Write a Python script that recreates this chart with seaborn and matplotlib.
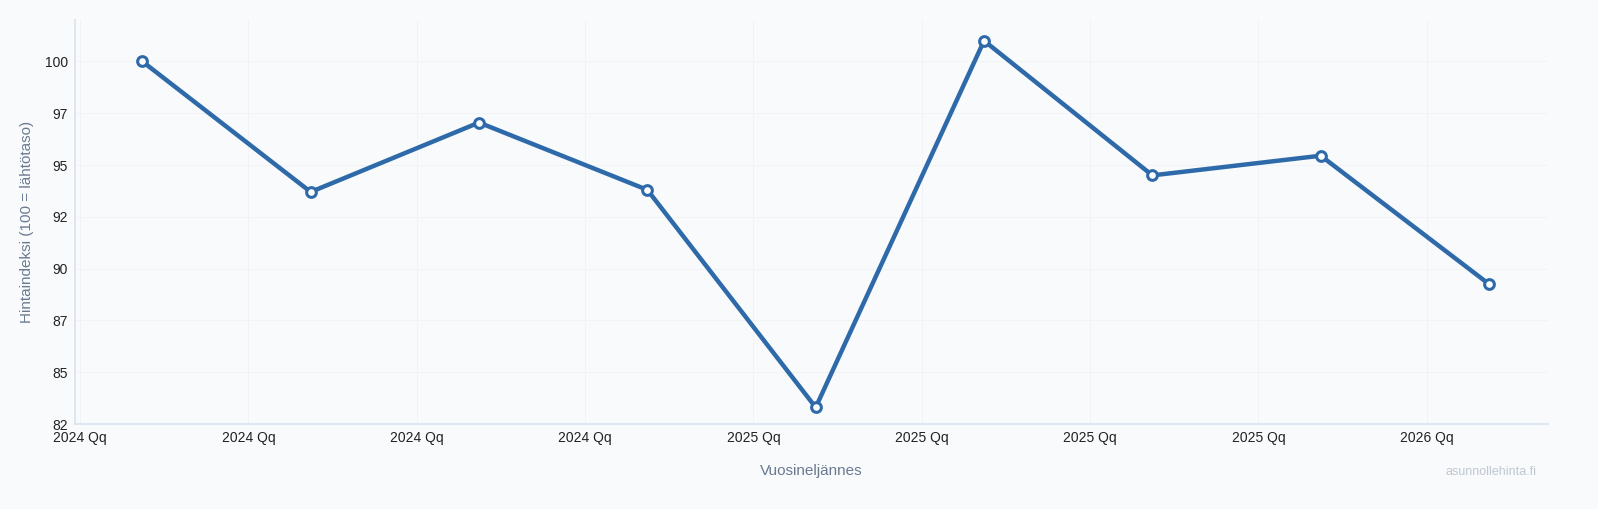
import matplotlib
matplotlib.use("Agg")
import matplotlib.pyplot as plt
import seaborn as sns
import pandas as pd
from matplotlib.ticker import FixedLocator, FuncFormatter

quarters = list(range(9))
values = [100.0, 93.7, 97.05, 93.8, 83.3, 101.0, 94.5, 95.45, 89.25]
tick_labels = ["2024 Qq"] * 4 + ["2025 Qq"] * 4 + ["2026 Qq"]
y_ticks = [82.5, 85, 87.5, 90, 92.5, 95, 97.5, 100]

bg = "#f8fafc"
sns.set_theme(style="white")
plt.rcParams['font.family'] = ['Liberation Sans', 'DejaVu Sans']
fig = plt.figure(figsize=(15.98, 5.09), dpi=100, facecolor=bg)
ax = fig.add_axes([75/1598, 1-424/509, (1548-75)/1598, (424-20)/509], facecolor=bg)

df = pd.DataFrame({"q": quarters, "v": values})
sns.lineplot(data=df, x="q", y="v", ax=ax, color="#2e6aa9", linewidth=3.2,
             marker="o", markersize=7, markerfacecolor="white",
             markeredgecolor="#2e6aa9", markeredgewidth=2.2)

ax.set_xlim(-0.40, 8.35)
ax.set_ylim(82.5, 102.0)
ax.xaxis.set_major_locator(FixedLocator([i - 0.37 for i in quarters]))
ax.set_xticklabels(tick_labels)
ax.yaxis.set_major_locator(FixedLocator(y_ticks))
ax.yaxis.set_major_formatter(FuncFormatter(lambda v, p: f"{int(v)}"))
ax.tick_params(labelsize=10, colors="#222222", length=0, pad=5)
ax.grid(True, color="#f1f3f7", linewidth=0.7)
for s in ["top", "right"]:
    ax.spines[s].set_visible(False)
for s in ["left", "bottom"]:
    ax.spines[s].set_color("#dbe3ee")
ax.set_xlabel("Vuosineljännes", fontsize=11, color="#6b7a90", labelpad=14)
ax.set_ylabel("Hintaindeksi (100 = lähtötaso)", fontsize=11, color="#6b7a90", labelpad=8)
fig.text(1537/1598, 1-472/509, "asunnollehinta.fi", ha="right", va="center",
         fontsize=9, color="#c0c8d2")
fig.savefig("out.png", dpi=100, facecolor=bg)
